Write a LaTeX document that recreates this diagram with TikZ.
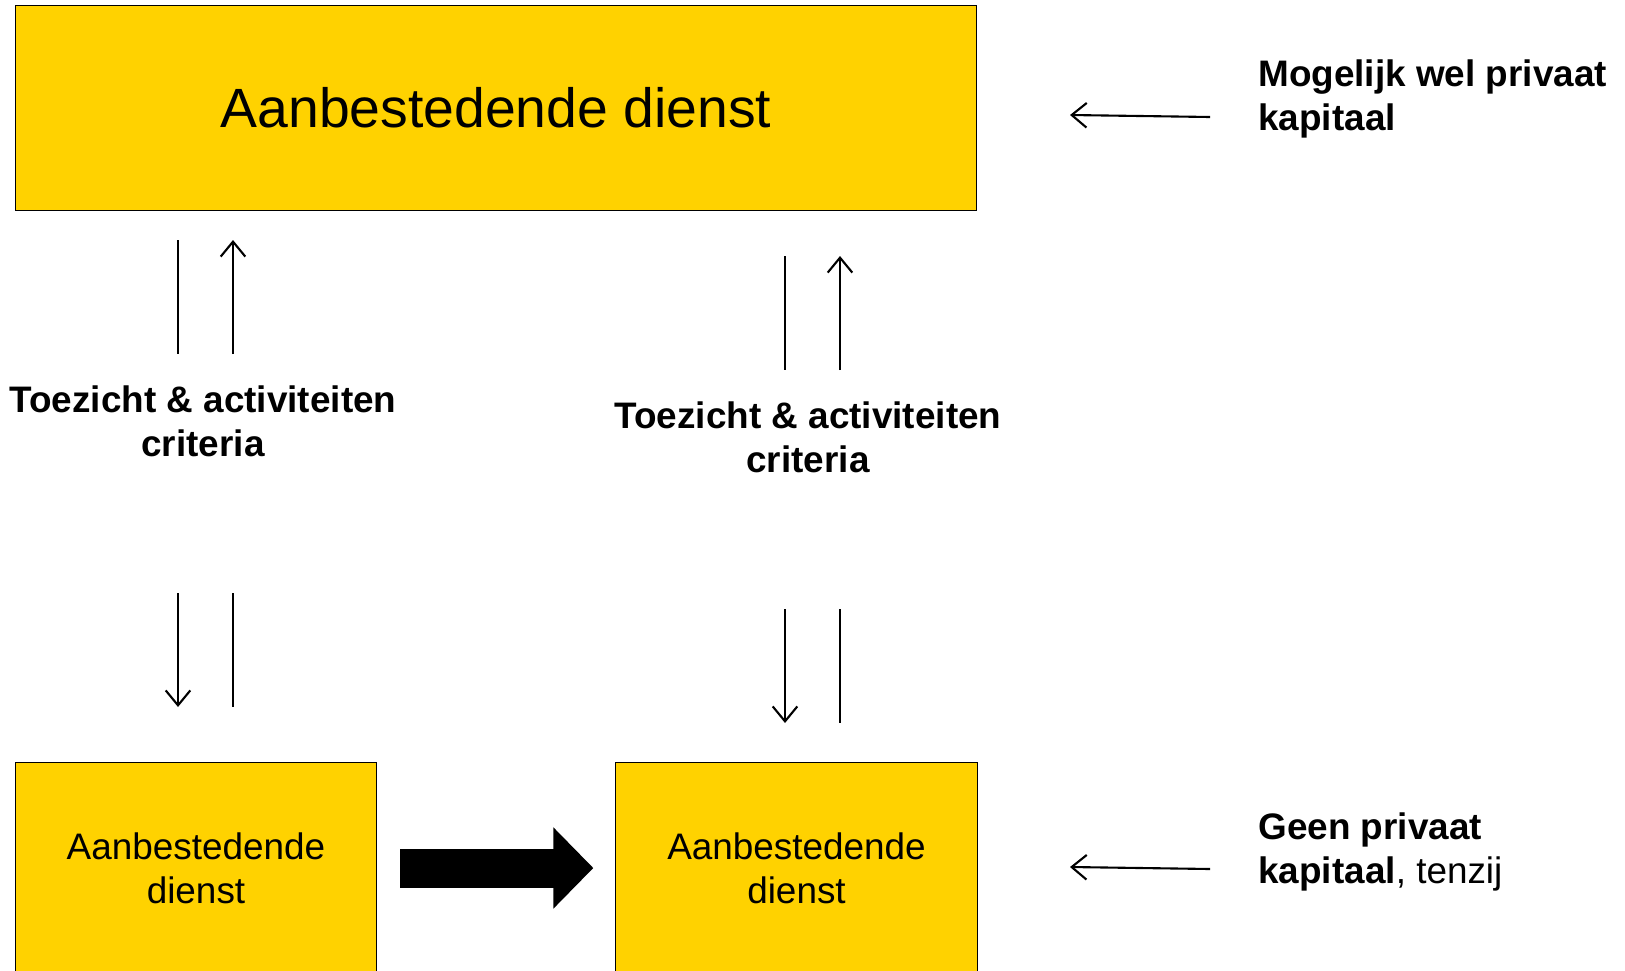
\documentclass[tikz,border=0pt]{standalone}
\usepackage{fontspec}
\setmainfont{Liberation Sans}
\usetikzlibrary{arrows.meta}
\definecolor{dienstgeel}{RGB}{255,210,0}

\begin{document}
\begin{tikzpicture}[x=0.02cm, y=-0.02cm,
  dienst/.style={draw, fill=dienstgeel, line width=0.5pt, inner sep=0pt, align=center},
  labeltext/.style={font=\bfseries\fontsize{21}{25}\selectfont, align=center, inner sep=0pt},
  pijl/.style={line width=1.2pt, -{Straight Barb[length=8.5pt, width=14pt]}},
  streep/.style={line width=1.2pt}]
\clip (0,0) rectangle (1625,970);

\node[dienst, minimum width=19.23cm, minimum height=4.1cm, font=\fontsize{31.5}{38}\selectfont] (top) at (496,107.5) {Aanbestedende dienst};
\node[dienst, minimum width=7.23cm, minimum height=4.24cm, font=\fontsize{21}{25}\selectfont] (links) at (196,868) {Aanbestedende\\dienst};
\node[dienst, minimum width=7.23cm, minimum height=4.24cm, font=\fontsize{21}{25}\selectfont] (rechts) at (796.5,868) {Aanbestedende\\dienst};

\node[labeltext] (toezicht1) at (203,421) {Toezicht \& activiteiten\\criteria};
\node[labeltext] (toezicht2) at (808,437) {Toezicht \& activiteiten\\criteria};

\node[labeltext, anchor=west, align=left] (mogelijk) at (1258,99) {Mogelijk wel privaat\\kapitaal};
\node[labeltext, anchor=west, align=left] (geen) at (1258,852) {Geen privaat\\kapitaal\textmd{, tenzij}};

% pijlen boven en onder de criteria
\foreach \x/\y in {178/240, 785/256} {
  \draw[streep] (\x, \y) -- (\x, \y + 114);
  \draw[pijl] (\x + 55, \y + 114) -- (\x + 55, \y);
  \draw[pijl] (\x, \y + 353) -- (\x, \y + 467);
  \draw[streep] (\x + 55, \y + 353) -- (\x + 55, \y + 467);
}

\draw[pijl] (1210,117) -- (1070,115);
\draw[pijl] (1210,869) -- (1070,867);

\draw[line width=0.78cm, -{Triangle[length=0.8cm, width=1.58cm]}, shorten <=0.46cm, shorten >=0.44cm] (links.east) -- (rechts.west);

\end{tikzpicture}
\end{document}
